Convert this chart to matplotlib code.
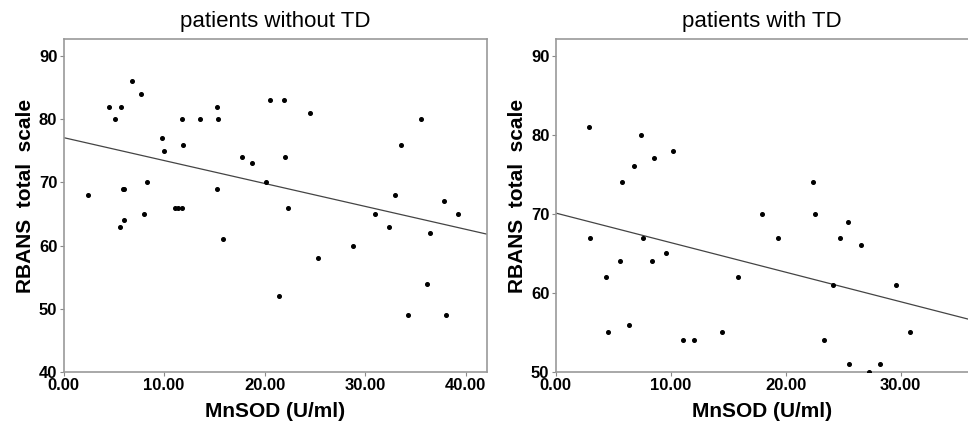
import numpy as np
import matplotlib
matplotlib.use("Agg")
import matplotlib.pyplot as plt

plt.rcParams['font.family'] = ['Liberation Sans', 'DejaVu Sans']

# patients without TD
x_no = [2.47, 4.52, 5.09, 5.75, 6.78, 7.74, 5.9, 6.0, 8.3, 8.03, 5.6, 6.0,
        9.82, 9.96, 11.8, 11.85, 13.6, 15.26, 15.4, 15.3, 11.08, 11.41, 11.78,
        17.7, 15.9, 18.77, 20.56, 21.9, 22.05, 20.13, 22.35, 24.47, 33.6, 35.5,
        33.0, 31.0, 37.85, 39.2, 32.4, 36.43, 21.4, 25.27, 28.78, 36.16, 34.3, 38.05]
y_no = [68, 82, 80, 82, 86, 84, 69, 69, 70, 65, 63, 64,
        77, 75, 80, 76, 80, 82, 80, 69, 66, 66, 66,
        74, 61, 73, 83, 83, 74, 70, 66, 81, 76, 80,
        68, 65, 67, 65, 63, 62, 52, 58, 60, 54, 49, 49]

# patients with TD
x_td = [2.9, 7.39, 5.77, 6.78, 8.55, 10.17, 3.0, 4.37, 5.56, 4.55, 6.35, 7.62,
        8.4, 9.59, 11.1, 12.0, 14.43, 15.85, 19.36, 25.44, 24.72, 26.52, 24.11,
        29.57, 23.33, 30.84, 25.47, 28.17, 27.27, 22.35, 17.9, 22.55]
y_td = [81, 80, 74, 76, 77, 78, 67, 62, 64, 55, 56, 67,
        64, 65, 54, 54, 55, 62, 67, 69, 67, 66, 61,
        61, 54, 55, 51, 51, 50, 74, 70, 70]

# fit lines (intercept, slope)
fit_no = (77.1, -0.363)
fit_td = (70.1, -0.374)

fig = plt.figure(figsize=(9.68, 4.22), dpi=100)
ax1 = fig.add_axes([0.0656, 0.1185, 0.4374, 0.789])
ax2 = fig.add_axes([0.574, 0.1185, 0.426, 0.789])

panels = [
    (ax1, x_no, y_no, fit_no, 'patients without TD', (0, 42.1), (40, 92.7),
     [0, 10, 20, 30, 40], [40, 50, 60, 70, 80, 90]),
    (ax2, x_td, y_td, fit_td, 'patients with TD', (0, 35.85), (50, 92.1),
     [0, 10, 20, 30], [50, 60, 70, 80, 90]),
]

for ax, xs, ys, fit, title, xl, yl, xt, yt in panels:
    ax.plot(xs, ys, 'o', color='black', markersize=2.6, zorder=3)
    lx = np.array(xl)
    ax.plot(lx, fit[0] + fit[1] * lx, color='#444444', linewidth=0.9)
    ax.set_xlim(*xl)
    ax.set_ylim(*yl)
    ax.set_xticks(xt)
    ax.set_xticklabels(['%.2f' % v for v in xt])
    ax.set_yticks(yt)
    ax.tick_params(direction='out', length=3, width=0.8, color='#888888',
                   labelsize=12, pad=1.5)
    for lab in ax.get_xticklabels() + ax.get_yticklabels():
        lab.set_fontweight('bold')
    for s in ax.spines.values():
        s.set_color('#999999')
        s.set_linewidth(1.2)
    ax.set_title(title, fontsize=16, pad=9)
    ax.set_xlabel('MnSOD (U/ml)', fontsize=15, fontweight='bold', labelpad=6)
    ax.set_ylabel('RBANS  total  scale', fontsize=15, fontweight='bold')

ax1.yaxis.set_label_coords(-0.068, 0.53)
ax2.yaxis.set_label_coords(-0.07, 0.53)
ax2.spines['right'].set_visible(False)

fig.savefig('out.png', dpi=100)
